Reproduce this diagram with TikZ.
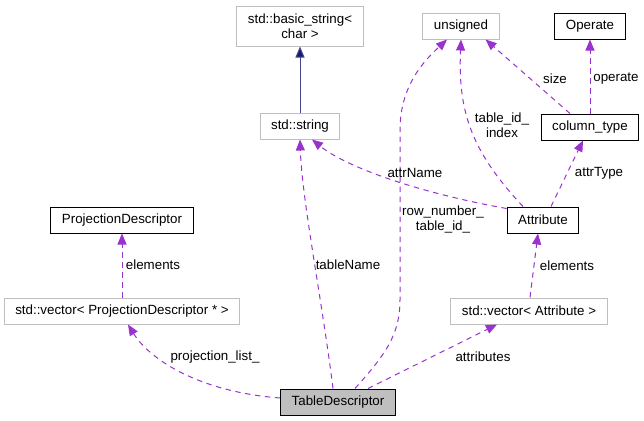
\documentclass[tikz,border=0pt]{standalone}
\usepackage{fontspec}
\setmainfont{Liberation Sans}
\usetikzlibrary{arrows.meta,calc}
\definecolor{edgepurple}{HTML}{9A32CD}
\definecolor{boxgray}{HTML}{BFBFBF}
\definecolor{midblue}{HTML}{191970}
\begin{document}
\begin{tikzpicture}[x=0.75pt,y=-0.75pt,
  font=\fontsize{10}{11.25}\selectfont,
  box/.style={draw=black,line width=0.75pt,inner xsep=8.25pt,inner ysep=0pt,minimum height=19.5pt,align=center},
  graybox/.style={box,draw=boxgray},
  tdbox/.style={box,fill=boxgray},
  usedge/.style={draw=edgepurple,line width=0.75pt,dash pattern=on 4pt off 3.5pt,-{Triangle[length=8.25pt,width=6.75pt,fill=edgepurple]}},
  inhedge/.style={draw=midblue!80,line width=0.75pt,-{Triangle[length=8.25pt,width=6.75pt,fill=midblue]}},
  elabel/.style={inner sep=0pt,align=center}]
\useasboundingbox (0,0) rectangle (644,421);
% nodes
\node[graybox,minimum height=30pt] (basic) at (300,26) {std::basic\_string<\\char >};
\node[graybox] (str) at (300,126) {std::string};
\node[graybox] (uns) at (461,26) {unsigned};
\node[box] (oper) at (590,26) {Operate};
\node[box] (ct) at (590,127) {column\_type};
\node[box] (attr) at (543,220) {Attribute};
\node[box] (pd) at (122,220) {ProjectionDescriptor};
\node[graybox] (vpd) at (122,311) {std::vector< ProjectionDescriptor * >};
\node[graybox] (va) at (529,311) {std::vector< Attribute >};
\node[tdbox] (td) at (338,402) {TableDescriptor};
% edges
\draw[inhedge] (str.north) -- (basic.south);
\draw[usedge] ($(td.north)+(-5,0)$) .. controls (322,300) and (302,200) .. (str.south);
\draw[usedge] ($(attr.north west)+(0,2)$) .. controls (430,195) and (350,170) .. ($(str.south)+(12,0)$);
\draw[usedge] ($(td.north)+(17,0)$) .. controls (385,355) and (400,335) .. (400,300) -- (400,130) .. controls (400,85) and (425,60) .. ($(uns.south)+(-14,0)$);
\draw[usedge] ($(attr.north)+(-20,0)$) .. controls (470,150) and (458,110) .. (uns.south);
\draw[usedge] ($(ct.north)+(-20,0)$) -- ($(uns.south east)+(-14,0)$);
\draw[usedge] (ct.north) -- (oper.south);
\draw[usedge] ($(attr.north)+(8,0)$) -- ($(ct.south)+(-7,0)$);
\draw[usedge] ($(va.north)+(1,0)$) -- ($(attr.south)+(-5,0)$);
\draw[usedge] ($(td.north)+(30,0)$) -- ($(va.south)+(-32,0)$);
\draw[usedge] (vpd.north) -- (pd.south);
\draw[usedge] ($(td.west)+(0,-4)$) .. controls (200,392) and (150,360) .. ($(vpd.south)+(6,0)$);
% labels
\node[elabel] (l1) at (348,265) {tableName};
\node[elabel] (l2) at (415,173) {attrName};
\node[elabel] (l3) at (443,219) {row\_number\_\\table\_id\_};
\node[elabel] (l4) at (502,125) {table\_id\_\\index};
\node[elabel] (l5) at (555,79) {size};
\node[elabel] (l6) at (616,79) {operate};
\node[elabel] (l7) at (599,173) {attrType};
\node[elabel] (l8) at (567,266) {elements};
\node[elabel] (l9) at (483,357) {attributes};
\node[elabel] (l10) at (153,265) {elements};
\node[elabel] (l11) at (215,357) {projection\_list\_};
\end{tikzpicture}
\end{document}
